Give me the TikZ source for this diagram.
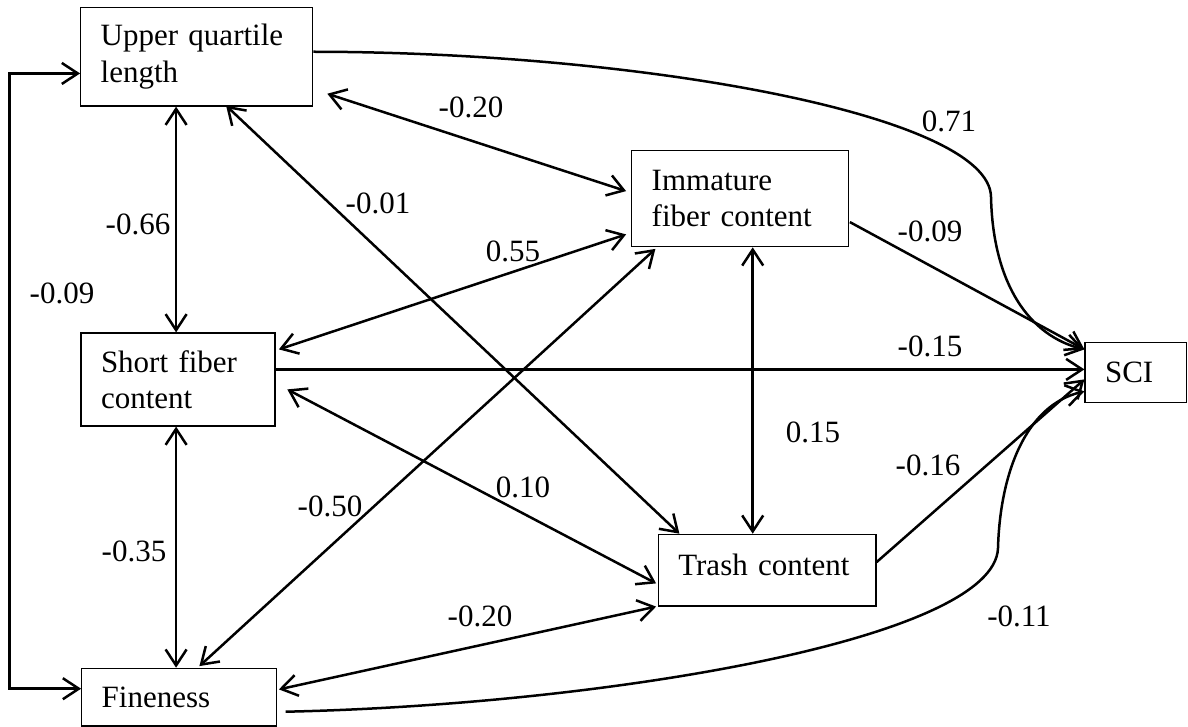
\documentclass[tikz,border=0pt]{standalone}
\usepackage{fontspec}
\setmainfont{Liberation Serif}
\usetikzlibrary{arrows.meta}
\newcommand\dgboxfont{\fontsize{31}{36.5}\selectfont}
\newcommand\dglabfont{\fontsize{31}{36}\selectfont}
\begin{document}
\begin{tikzpicture}[x=1pt,y=-1pt,
  box/.style={draw, line width=1.2pt, align=left, inner xsep=20pt, inner ysep=0pt, font=\dgboxfont},
  lab/.style={inner sep=0pt, font=\dglabfont},
  conn/.style={line width=2.5pt},
  >={Straight Barb[length=16pt,width=21pt]}]
\useasboundingbox (0,0) rectangle (1188,727);

% boxes
\node[box, text width=192pt, minimum height=98.7pt] (uql) at (196.7,56.7) {Upper quartile\\length};
\node[box, text width=177pt, minimum height=96pt] (imm) at (740.2,198.7) {Immature\\fiber content};
\node[box, text width=154pt, minimum height=93pt] (sfc) at (178,379.5) {Short fiber\\content};
\node[box, text width=61.5pt, minimum height=59.6pt] (sci) at (1135.75,372.5) {SCI};
\node[box, text width=177.7pt, minimum height=71.7pt, text depth=11.6pt] (trash) at (767.15,570.15) {Trash content};
\node[box, text width=155pt, minimum height=57.7pt] (fin) at (179.2,697.15) {Fineness};

% correlations
\draw[conn,<->] ([xshift=96pt]uql.south west) -- ([xshift=95.7pt]sfc.north west);
\draw[conn,<->] ([xshift=95.7pt]sfc.south west) -- ([xshift=95pt]fin.north west);
\draw[conn,<->] ([yshift=-66.7pt]uql.north west) -- ++(-70.7,0) |- ([yshift=-21pt]fin.north west);
\draw[conn,<->] ([xshift=14pt,yshift=-87pt]uql.north east) -- ([xshift=-5pt,yshift=-41pt]imm.north west);
\draw[conn,<->] ([xshift=146pt,yshift=1pt]uql.south west) -- ([xshift=21.7pt]trash.north west);
\draw[conn,<->] ([xshift=3.3pt,yshift=-17pt]sfc.north east) -- ([xshift=-5pt,yshift=-84.3pt]imm.north west);
\draw[conn,<->] ([xshift=118.3pt,yshift=1.6pt]fin.north west) -- ([xshift=24.3pt,yshift=-1.6pt]imm.south west);
\draw[conn,<->] ([xshift=11.7pt,yshift=-57pt]sfc.north east) -- ([xshift=-1.6pt,yshift=-49.7pt]trash.north west);
\draw[conn,<->] ([xshift=1.6pt,yshift=-21.7pt]fin.north east) -- ([xshift=-1.6pt]trash.south west);
\draw[conn,<->] ([xshift=121.6pt]imm.south west) -- ([xshift=95pt]trash.north west);

% paths to SCI
\draw[conn,->] ([yshift=-37pt]sfc.north east) -- ([yshift=-27.3pt]sci.north west);
\draw[conn,->] ([xshift=0.6pt,yshift=-72pt]imm.north east) -- ([yshift=-7.3pt]sci.north west);
\draw[conn,->] ([yshift=-45pt]uql.north east) .. controls (640,52) and (990,115) .. (991,197)
   .. controls (993,285) and (1030,336) .. ([yshift=-7.3pt]sci.north west);
\draw[conn,->] ([yshift=-28.4pt]trash.north east) -- ([yshift=-37.3pt]sci.north west);
\draw[conn,->] ([xshift=8.3pt,yshift=-44pt]fin.north east) .. controls (600,705) and (995,640) .. (998,548)
   .. controls (1000,475) and (1025,405) .. ([yshift=-49.3pt]sci.north west);

% labels
\node[lab] (l1) at (138,224.5) {-0.66};
\node[lab] (l2) at (62,293.5) {-0.09};
\node[lab] (l3) at (134,551) {-0.35};
\node[lab] (l4) at (471,107) {-0.20};
\node[lab] (l5) at (378,203) {-0.01};
\node[lab] (l6) at (513,251) {0.55};
\node[lab] (l7) at (949,121) {0.71};
\node[lab] (l8) at (930,231) {-0.09};
\node[lab] (l9) at (930,346) {-0.15};
\node[lab] (l10) at (813,432) {0.15};
\node[lab] (l11) at (330,506) {-0.50};
\node[lab] (l12) at (523,487) {0.10};
\node[lab] (l13) at (928,465) {-0.16};
\node[lab] (l14) at (480,616) {-0.20};
\node[lab] (l15) at (1019,616) {-0.11};
\end{tikzpicture}
\end{document}
